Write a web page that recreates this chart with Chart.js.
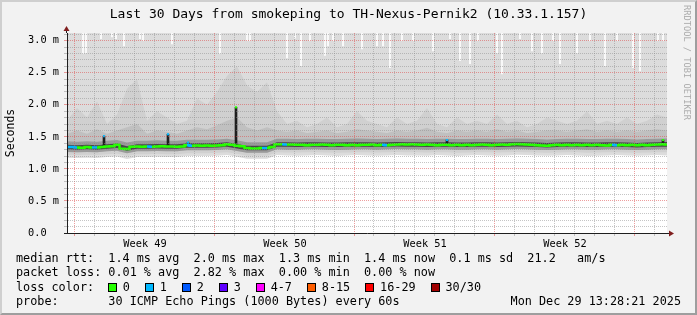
<!DOCTYPE html>
<html>
<head>
<meta charset="utf-8">
<title>Last 30 Days from smokeping to TH-Nexus-Pernik2</title>
<script src="https://cdn.jsdelivr.net/npm/chart.js@4.4.1/dist/chart.umd.min.js"></script>
<style>
  body { margin: 0; background: #fff; }
  #graph { position: relative; width: 697px; height: 315px; background: #f2f2f2; overflow: hidden;
    font-family: "DejaVu Sans Mono", monospace; color: #000; }
  #graph canvas { position: absolute; left: 0; top: 0; }
  #frame { position: absolute; left: 0; top: 0; width: 697px; height: 315px; box-sizing: border-box;
    border: 2px solid; border-color: #cfcfcf #9e9e9e #9e9e9e #cfcfcf; pointer-events: none; }
  .title { position: absolute; left: 0; top: 7.3px; width: 697px; text-align: center; font-size: 13px; line-height: 1; white-space: pre; }
  .side { position: absolute; left: 691px; top: 5px; transform-origin: 0 0; transform: rotate(90deg);
    font-size: 8.7px; line-height: 1; color: #ababab; white-space: nowrap; }
  .row { position: absolute; left: 16px; font-size: 11.8px; line-height: 1; white-space: pre; }
  #losscolors { position: absolute; left: 108px; font-size: 11.8px; line-height: 1; white-space: pre; }
  .box { display: inline-block; width: 7px; height: 7px; border: 1px solid #000; margin-right: 5.7px; vertical-align: -1px; }
  .lab { margin-right: 15.2px; }
  .date { position: absolute; right: 16px; font-size: 11.8px; line-height: 1; white-space: pre; }
</style>
</head>
<body>
<div id="graph">
  <canvas id="smoke" width="697" height="315"></canvas>
  <div class="title">Last 30 Days from smokeping to TH-Nexus-Pernik2 (10.33.1.157)</div>
  <div class="side">RRDTOOL / TOBI OETIKER</div>
  <div class="row" style="top:253px">median rtt:  1.4 ms avg  2.0 ms max  1.3 ms min  1.4 ms now  0.1 ms sd  21.2   am/s</div>
  <div class="row" style="top:267.3px">packet loss: 0.01 % avg  2.82 % max  0.00 % min  0.00 % now</div>
  <div class="row" style="top:281.7px">loss color:</div>
  <div id="losscolors" style="top:281.7px"></div>
  <div class="row" style="top:296px">probe:       30 ICMP Echo Pings (1000 Bytes) every 60s</div>
  <div class="date" style="top:296px">Mon Dec 29 13:28:21 2025</div>
  <div id="frame"></div>
</div>
<script>
// x values are days since the start of the graph (0 .. 30)
const yMax = 3.12;

// median rtt (ms), one value every 6 hours
const medStep = 0.25;
const medV = [
  1.34, 1.34, 1.335, 1.33, 1.34, 1.335, 1.335, 1.34, 1.35, 1.355,
  1.375, 1.315, 1.31, 1.345, 1.35, 1.345, 1.35, 1.345, 1.35, 1.355,
  1.35, 1.35, 1.345, 1.35, 1.37, 1.36, 1.365, 1.36, 1.365, 1.36,
  1.365, 1.37, 1.385, 1.375, 1.36, 1.355, 1.325, 1.32, 1.32, 1.325,
  1.325, 1.34, 1.385, 1.385, 1.38, 1.38, 1.375, 1.375, 1.37, 1.375,
  1.375, 1.38, 1.375, 1.37, 1.375, 1.375, 1.37, 1.375, 1.37, 1.375,
  1.375, 1.38, 1.37, 1.375, 1.37, 1.375, 1.38, 1.385, 1.38, 1.385,
  1.38, 1.375, 1.38, 1.375, 1.37, 1.375, 1.375, 1.37, 1.375, 1.37,
  1.375, 1.37, 1.375, 1.38, 1.375, 1.37, 1.375, 1.38, 1.375, 1.385,
  1.39, 1.385, 1.38, 1.375, 1.37, 1.365, 1.36, 1.37, 1.375, 1.37,
  1.375, 1.37, 1.375, 1.37, 1.375, 1.37, 1.375, 1.37, 1.365, 1.375,
  1.37, 1.375, 1.37, 1.375, 1.37, 1.375, 1.37, 1.375, 1.38, 1.385,
  1.38
];
// samples of the median where 1 of 30 pings was lost
const lossPoints = [0, 1, 5, 16, 24, 39, 43, 63, 109];

// smoke bands (ms), one value every 12 hours
const smokeStep = 0.5;
const smokeLo1 = [
  1.175, 1.17, 1.175, 1.17, 1.185, 1.195, 1.155, 1.185, 1.185, 1.19,
  1.185, 1.185, 1.2, 1.2, 1.2, 1.205, 1.215, 1.19, 1.16, 1.16,
  1.16, 1.215, 1.21, 1.205, 1.21, 1.215, 1.21, 1.2, 1.21, 1.215,
  1.21, 1.205, 1.21, 1.215, 1.21, 1.21, 1.205, 1.215, 1.21, 1.2,
  1.21, 1.215, 1.21, 1.205, 1.21, 1.22, 1.215, 1.21, 1.205, 1.21,
  1.215, 1.21, 1.2, 1.205, 1.21, 1.215, 1.21, 1.205, 1.21, 1.215,
  1.21
];
const smokeLo2 = [
  1.22, 1.215, 1.22, 1.215, 1.23, 1.24, 1.2, 1.23, 1.23, 1.235,
  1.23, 1.23, 1.245, 1.245, 1.245, 1.25, 1.26, 1.235, 1.205, 1.205,
  1.205, 1.26, 1.255, 1.255, 1.26, 1.26, 1.255, 1.25, 1.255, 1.26,
  1.26, 1.255, 1.26, 1.265, 1.26, 1.26, 1.255, 1.26, 1.26, 1.25,
  1.255, 1.26, 1.26, 1.255, 1.26, 1.265, 1.26, 1.255, 1.25, 1.255,
  1.26, 1.26, 1.25, 1.255, 1.26, 1.26, 1.255, 1.25, 1.255, 1.26,
  1.26
];
const smokeLo3 = [
  1.265, 1.26, 1.265, 1.26, 1.275, 1.285, 1.245, 1.275, 1.275, 1.28,
  1.275, 1.275, 1.29, 1.29, 1.29, 1.295, 1.305, 1.28, 1.25, 1.25,
  1.25, 1.305, 1.3, 1.3, 1.305, 1.305, 1.3, 1.295, 1.3, 1.305,
  1.305, 1.3, 1.305, 1.31, 1.305, 1.305, 1.3, 1.305, 1.305, 1.3,
  1.3, 1.305, 1.305, 1.3, 1.305, 1.31, 1.305, 1.3, 1.295, 1.3,
  1.305, 1.305, 1.3, 1.3, 1.305, 1.305, 1.3, 1.295, 1.3, 1.305,
  1.305
];
const smokeLo4 = [
  1.305, 1.3, 1.305, 1.3, 1.315, 1.325, 1.285, 1.315, 1.315, 1.32,
  1.315, 1.315, 1.33, 1.33, 1.33, 1.335, 1.345, 1.32, 1.29, 1.29,
  1.29, 1.345, 1.345, 1.34, 1.345, 1.345, 1.34, 1.34, 1.345, 1.345,
  1.345, 1.34, 1.345, 1.35, 1.345, 1.345, 1.34, 1.345, 1.345, 1.34,
  1.34, 1.345, 1.345, 1.34, 1.345, 1.35, 1.345, 1.34, 1.335, 1.34,
  1.345, 1.345, 1.34, 1.34, 1.345, 1.345, 1.34, 1.335, 1.34, 1.345,
  1.345
];
const smokeHi4 = [
  1.375, 1.37, 1.375, 1.37, 1.385, 1.395, 1.355, 1.385, 1.385, 1.39,
  1.385, 1.385, 1.4, 1.4, 1.4, 1.405, 1.415, 1.39, 1.36, 1.36,
  1.36, 1.415, 1.415, 1.41, 1.415, 1.415, 1.41, 1.41, 1.415, 1.415,
  1.415, 1.41, 1.415, 1.42, 1.415, 1.415, 1.41, 1.415, 1.415, 1.41,
  1.41, 1.415, 1.415, 1.41, 1.415, 1.42, 1.415, 1.41, 1.405, 1.41,
  1.415, 1.415, 1.41, 1.41, 1.415, 1.415, 1.41, 1.405, 1.41, 1.415,
  1.42
];
const smokeHi3 = [
  1.43, 1.425, 1.43, 1.425, 1.44, 1.45, 1.41, 1.44, 1.44, 1.445,
  1.44, 1.44, 1.455, 1.455, 1.455, 1.46, 1.47, 1.445, 1.415, 1.415,
  1.415, 1.47, 1.47, 1.465, 1.47, 1.47, 1.465, 1.465, 1.47, 1.475,
  1.47, 1.465, 1.47, 1.475, 1.47, 1.47, 1.465, 1.47, 1.47, 1.465,
  1.465, 1.47, 1.47, 1.465, 1.47, 1.475, 1.47, 1.465, 1.46, 1.465,
  1.47, 1.47, 1.465, 1.465, 1.47, 1.47, 1.465, 1.46, 1.465, 1.47,
  1.475
];
const smokeHi2b = [
  1.55, 1.6, 1.55, 1.62, 1.55, 1.6, 1.65, 1.7, 1.55, 1.6,
  1.58, 1.55, 1.6, 1.65, 1.62, 1.68, 1.75, 1.8, 1.65, 1.6,
  1.65, 1.6, 1.58, 1.6, 1.56, 1.58, 1.6, 1.56, 1.58, 1.62,
  1.6, 1.58, 1.56, 1.6, 1.58, 1.6, 1.64, 1.58, 1.56, 1.6,
  1.58, 1.6, 1.58, 1.62, 1.58, 1.6, 1.56, 1.58, 1.6, 1.6,
  1.58, 1.6, 1.62, 1.58, 1.6, 1.58, 1.6, 1.58, 1.6, 1.62,
  1.6
];
const smokeHi2 = [
  1.75, 1.95, 1.8, 2.05, 1.7, 1.85, 2.25, 2.4, 1.75, 1.9,
  1.8, 1.7, 1.75, 2.1, 2.0, 2.2, 2.45, 2.6, 2.3, 2.2,
  2.35, 1.9, 1.7, 1.75, 1.65, 1.7, 1.8, 1.65, 1.7, 1.9,
  1.75, 1.7, 1.65, 1.8, 1.7, 1.75, 1.95, 1.7, 1.65, 1.8,
  1.7, 1.75, 1.7, 1.85, 1.7, 1.75, 1.65, 1.7, 1.8, 1.75,
  1.7, 1.75, 1.9, 1.7, 1.75, 1.7, 1.8, 1.7, 1.75, 1.85,
  1.8
];

// short-lived median spikes
const spikeT = [1.85, 5.05, 6.05, 8.45, 19.0, 29.8];
const spikeBase = [1.34, 1.35, 1.36, 1.37, 1.375, 1.38];
const spikeTop = [1.51, 1.54, 1.41, 1.96, 1.45, 1.45];
const spikeLoss = [1, 1, 1, 0, 1, 0];

// periods where the slowest ping stayed below the top of the graph
const gapT = [
  0.8, 0.95, 1.7, 2.25, 2.45, 2.85, 3.65, 3.8, 5.25, 7.65,
  9.0, 9.15, 11.0, 11.4, 11.7, 12.15, 12.9, 13.05, 13.3, 13.8,
  14.75, 15.5, 15.8, 16.15, 16.75, 17.3, 18.3, 19.15, 19.65, 20.15,
  20.55, 21.5, 21.75, 22.65, 23.25, 23.75, 24.3, 24.65, 25.5, 26.15,
  26.9, 27.5, 28.3, 28.65, 29.55, 29.8
];
const gapLow = [
  2.8, 2.81, 3.03, 3.06, 3.03, 2.92, 3.03, 3.0, 2.95, 2.8,
  3.0, 3.0, 2.73, 3.04, 2.61, 3.0, 2.77, 2.92, 3.0, 2.92,
  2.87, 2.92, 2.92, 2.58, 3.0, 3.0, 2.84, 3.03, 2.69, 2.64,
  3.0, 2.81, 2.48, 3.03, 2.84, 2.81, 3.0, 2.64, 2.81, 3.0,
  2.61, 3.0, 2.58, 2.53, 3.0, 3.0
];

// axes
const weekLabels = ["Week 49", "Week 50", "Week 51", "Week 52"];
const weekMid = [3.9, 10.9, 17.9, 24.9];
const firstDayLine = 0.35;
const yMajor = [0, 0.5, 1, 1.5, 2, 2.5, 3];
const yLabels = ["0.0  ", "0.5 m", "1.0 m", "1.5 m", "2.0 m", "2.5 m", "3.0 m"];

const lossLabels = ["0", "1", "2", "3", "4-7", "8-15", "16-29", "30/30"];
const lossColors = ["#26ff00", "#00b8ff", "#0059ff", "#5e00ff", "#ff00ff", "#ff5e00", "#ff0000", "#a00000"];

// legend boxes
const lossRow = document.getElementById("losscolors");
lossLabels.forEach((lab, i) => {
  const box = document.createElement("span");
  box.className = "box";
  box.style.background = lossColors[i];
  const txt = document.createElement("span");
  txt.className = "lab";
  txt.textContent = lab;
  lossRow.append(box, txt);
});

const pts = (arr, step) => arr.map((v, i) => ({ x: i * step, y: v }));
const near = (a, b) => Math.abs(a - b) < 1e-6;

const xTicks = [];
for (let d = firstDayLine; d < 30; d += 1) xTicks.push({ value: d });
weekMid.forEach(v => xTicks.push({ value: v }));
xTicks.sort((a, b) => a.value - b.value);

const yTicks = [];
for (let k = 0; k <= 31; k++) yTicks.push({ value: k / 10 });

const minorGrid = "rgba(140,140,140,0.5)";
const majorGrid = "rgba(222,79,79,0.55)";
const font = "'DejaVu Sans Mono', monospace";

function edge(arr, fill, color, order) {
  return { type: "line", data: pts(arr, smokeStep), borderWidth: 0, pointRadius: 0,
    fill: fill, backgroundColor: color, order: order };
}

const canvasBack = {
  id: "canvasBack",
  beforeDraw(chart) {
    const a = chart.chartArea;
    chart.ctx.save();
    chart.ctx.fillStyle = "#ffffff";
    chart.ctx.fillRect(a.left, a.top, a.right - a.left, a.bottom - a.top);
    chart.ctx.restore();
  }
};

const axisArrows = {
  id: "axisArrows",
  afterDraw(chart) {
    const ctx = chart.ctx, a = chart.chartArea;
    ctx.save();
    ctx.strokeStyle = "#1f1f1f";
    ctx.lineWidth = 1;
    ctx.beginPath();
    ctx.moveTo(a.right, a.bottom + 0.5);
    ctx.lineTo(a.right + 3, a.bottom + 0.5);
    ctx.moveTo(a.left - 0.5, a.top);
    ctx.lineTo(a.left - 0.5, a.top - 2);
    ctx.stroke();
    ctx.fillStyle = "#801f1f";
    ctx.beginPath();
    ctx.moveTo(a.right + 7, a.bottom + 0.5);
    ctx.lineTo(a.right + 2, a.bottom - 2.5);
    ctx.lineTo(a.right + 2, a.bottom + 3.5);
    ctx.closePath();
    ctx.fill();
    ctx.beginPath();
    ctx.moveTo(a.left - 0.5, a.top - 7);
    ctx.lineTo(a.left - 3.5, a.top - 2);
    ctx.lineTo(a.left + 2.5, a.top - 2);
    ctx.closePath();
    ctx.fill();
    ctx.restore();
  }
};

new Chart(document.getElementById("smoke"), {
  type: "line",
  data: {
    datasets: [
      // 0: coloured median at the top of each spike
      { type: "line", data: spikeT.map((t, i) => ({ x: t, y: spikeTop[i] })),
        showLine: false, pointStyle: "rect", pointRadius: 1.5, pointBorderWidth: 0,
        pointBackgroundColor: spikeLoss.map(l => lossColors[l]), order: 1 },
      // 1: median rtt
      { type: "line", data: pts(medV, medStep), borderColor: lossColors[0], borderWidth: 2.5,
        pointRadius: 0, stepped: "middle", fill: false, order: 2,
        segment: { borderColor: c => lossPoints.includes(c.p0DataIndex) ? lossColors[1] : lossColors[0] } },
      // 2: spike smoke
      { type: "bar", data: spikeT.map((t, i) => ({ x: t, y: [spikeBase[i], spikeTop[i]] })),
        backgroundColor: "#1e1e1e", barThickness: 2, grouped: false, order: 3 },
      // 3-9: smoke, darkest band first
      edge(smokeHi4, 4, "#484848", 4),
      edge(smokeLo4, false, "transparent", 4),
      edge(smokeHi3, 6, "#9a9a9a", 5),
      edge(smokeLo3, false, "transparent", 5),
      edge(smokeHi2b, 6, "#c0c0c0", 6),
      edge(smokeHi2, 9, "#d0d0d0", 7),
      edge(smokeLo2, false, "transparent", 7),
      // 10: tops that stayed under the graph
      { type: "bar", data: gapT.map((t, i) => ({ x: t, y: [gapLow[i], yMax] })),
        backgroundColor: "#ffffff", barThickness: 1, grouped: false, order: 8 },
      // 11: lightest smoke, up to the top
      edge(smokeLo1, "end", "#dcdcdc", 9)
    ]
  },
  options: {
    responsive: false,
    animation: false,
    events: [],
    layout: { padding: { top: 33, right: 30, bottom: 0, left: 0 } },
    plugins: { legend: { display: false }, tooltip: { enabled: false }, title: { display: false } },
    scales: {
      x: {
        type: "linear", min: 0, max: 30, offset: false,
        afterBuildTicks: s => { s.ticks = xTicks.map(t => ({ value: t.value })); },
        afterFit: s => { s.height = 82; },
        ticks: {
          autoSkip: false, maxRotation: 0, padding: 2, color: "#000",
          font: { family: font, size: 10.3 },
          callback: v => {
            const w = weekMid.findIndex(m => near(m, v));
            return w >= 0 ? weekLabels[w] : "";
          }
        },
        grid: {
          z: 1, offset: false, lineWidth: 1, tickLength: 3,
          color: c => {
            const v = c.tick.value;
            if (weekMid.some(m => near(m, v))) return "rgba(0,0,0,0)";
            return near(((v - firstDayLine) / 7) % 1, 0) ? majorGrid : minorGrid;
          },
          tickColor: c => {
            const v = c.tick.value;
            if (weekMid.some(m => near(m, v))) return "rgba(0,0,0,0)";
            return near(((v - firstDayLine) / 7) % 1, 0) ? majorGrid : minorGrid;
          }
        },
        border: { display: true, color: "#1f1f1f", width: 1, dash: [1, 1], z: 2 }
      },
      y: {
        type: "linear", min: 0, max: yMax,
        afterBuildTicks: s => { s.ticks = yTicks.map(t => ({ value: t.value })); },
        afterFit: s => { s.width = 67; },
        ticks: {
          autoSkip: false, padding: 5, color: "#000",
          font: { family: font, size: 10.3 },
          callback: v => {
            const j = yMajor.findIndex(m => near(m, v));
            return j >= 0 ? yLabels[j] : "";
          }
        },
        grid: {
          z: 1, lineWidth: 1, tickLength: 3,
          color: c => {
            const v = c.tick.value;
            if (near(v, 0)) return "rgba(0,0,0,0)";
            return yMajor.some(m => near(m, v)) ? majorGrid : minorGrid;
          },
          tickColor: c => {
            const v = c.tick.value;
            if (near(v, 0)) return "#1f1f1f";
            return yMajor.some(m => near(m, v)) ? majorGrid : minorGrid;
          }
        },
        border: { display: true, color: "#1f1f1f", width: 1, dash: [1, 1], z: 2 },
        title: { display: true, text: "Seconds", color: "#000", font: { family: font, size: 11.5 }, padding: { top: 4, bottom: 0 } }
      }
    }
  },
  plugins: [canvasBack, axisArrows]
});
</script>
</body>
</html>
